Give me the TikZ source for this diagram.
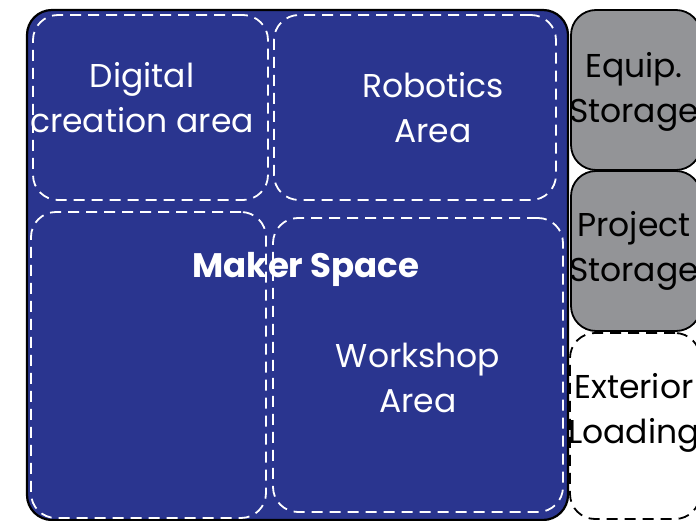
\documentclass[tikz,border=0pt]{standalone}
\usepackage{fontspec}
\setmainfont{Poppins}
\usetikzlibrary{positioning}
\definecolor{makerblue}{RGB}{42,53,143}
\definecolor{storegray}{RGB}{147,148,151}
\tikzset{
  room/.style={rectangle, rounded corners=25pt, line width=1.8pt, inner sep=0pt},
  zone/.style={room, draw=white, dash pattern=on 11pt off 7pt},
  store/.style={room, draw=black, fill=storegray},
  roomtext/.style={font=\fontsize{33}{45}\selectfont, align=center, inner sep=0pt},
}
\begin{document}
\begin{tikzpicture}[x=1pt, y=-1pt, line join=round]
  \useasboundingbox (0,0) rectangle (696,521);
  \clip (0,0) rectangle (696,521);
  % maker space and its zones
  \node[room, draw=black, line width=2.2pt, fill=makerblue, minimum width=541pt, minimum height=510pt] (maker) at (297.5,265) {};
  \node[zone, minimum width=235pt, minimum height=185pt] (digital) at (150.5,107.5) {};
  \node[zone, minimum width=282pt, minimum height=185pt] (robotics) at (415,107.5) {};
  \node[zone, minimum width=235pt, minimum height=306pt] (corner) at (148.5,365) {};
  \node[zone, minimum width=290pt, minimum height=294pt] (workshop) at (418,365) {};
  % storage on the right
  \node[store, minimum width=130pt, minimum height=160pt] (equip) at (636,90) {};
  \node[store, minimum width=130pt, minimum height=160pt] (project) at (636,251) {};
  \node[room, draw=black, fill=white, dash pattern=on 11pt off 7pt, minimum width=130pt, minimum height=186pt] (exterior) at (635,426) {};
  % labels
  \node[roomtext, text=white] (digitaltxt) at (142,97.5) {Digital\\creation area};
  \node[roomtext, text=white] (roboticstxt) at (433,107.5) {Robotics\\Area};
  \node[roomtext, text=white] (workshoptxt) at (418,377.5) {Workshop\\Area};
  \node[roomtext, text=white, font=\fontsize{34}{45}\selectfont\bfseries] (makertxt) at (306,269) {Maker Space};
  \node[roomtext] (equiptxt) at (634,91.5) {Equip.\\Storage};
  \node[roomtext] (projecttxt) at (634,251) {Project\\Storage};
  \node[roomtext] (exteriortxt) at (634,413) {Exterior\\Loading};
\end{tikzpicture}
\end{document}
